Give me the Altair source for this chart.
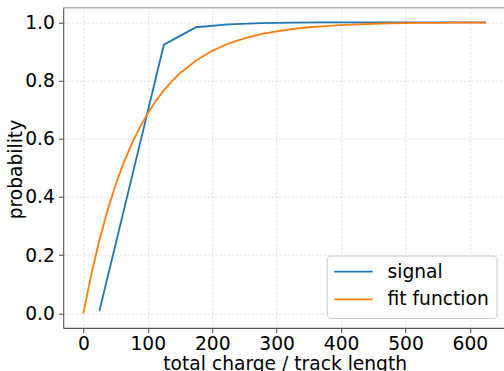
import altair as alt
import pandas as pd

# ---- data ----
sig_x = [25, 75, 125, 175, 225, 275, 325, 375, 425, 475, 525, 575, 625]
sig_y = [0.009, 0.465, 0.923, 0.983, 0.993, 0.997, 0.999, 1.0, 1.0, 1.0, 1.0, 1.0, 1.0]

fit_x = [0, 12.5, 25, 37.5, 50, 62.5, 75, 87.5, 100, 112.5, 125, 137.5, 150,
         175, 200, 225, 250, 275, 300, 325, 350, 375, 400, 425, 450, 475,
         500, 525, 550, 575, 600, 625]
fit_y = [0.0, 0.135, 0.252, 0.353, 0.441, 0.517, 0.582, 0.638, 0.687, 0.730,
         0.766, 0.798, 0.825, 0.869, 0.902, 0.927, 0.945, 0.959, 0.969, 0.977,
         0.983, 0.987, 0.990, 0.993, 0.995, 0.996, 0.997, 0.998, 0.998, 0.999,
         0.999, 0.999]

x_ticks = [0, 100, 200, 300, 400, 500, 600]
y_ticks = [0.0, 0.2, 0.4, 0.6, 0.8, 1.0]
legend_labels = ["signal", "fit function"]
legend_colors = ["#1f77b4", "#ff7f0e"]

FONT = "DejaVu Sans"
FS = 18.67
W, H = 440.8, 320.15

sig_df = pd.DataFrame({"x": sig_x, "y": sig_y})
fit_df = pd.DataFrame({"x": fit_x, "y": fit_y})
one = pd.DataFrame({"k": [0]})

common_axis = dict(
    labelFont=FONT, titleFont=FONT, labelFontSize=FS, titleFontSize=FS,
    labelColor="#000000", titleColor="#000000", titleFontWeight="normal",
    tickSize=4.67, tickColor="#555555", tickWidth=1.1,
    domainColor="#555555", domainWidth=1.1,
    grid=True, gridColor="#d6d6d6", gridDash=[2, 2], gridWidth=0.8,
    labelOverlap=False, labelFlush=False,
)

x_axis = alt.Axis(values=x_ticks, format="d", title="total charge / track length",
                  labelPadding=16.5, labelBaseline="alphabetic",
                  titleX=221.5, titleY=41.8, titleBaseline="alphabetic",
                  titleAlign="center", **common_axis)
y_axis = alt.Axis(values=y_ticks, format=".1f", title="probability",
                  labelPadding=4.2, labelBaseline="middle",
                  titleX=-41.9, titleY=161.3, titleAngle=270,
                  titleBaseline="alphabetic", titleAlign="center", **common_axis)

xs = alt.Scale(domain=[-31.25, 652.9], nice=False, zero=False)
ys = alt.Scale(domain=[-0.05, 1.05], nice=False, zero=False)

signal = alt.Chart(sig_df).mark_line(color=legend_colors[0], strokeWidth=1.8).encode(
    x=alt.X("x:Q", scale=xs, axis=x_axis),
    y=alt.Y("y:Q", scale=ys, axis=y_axis),
)
fit = alt.Chart(fit_df).mark_line(color=legend_colors[1], strokeWidth=1.8).encode(
    x=alt.X("x:Q", scale=xs, axis=x_axis),
    y=alt.Y("y:Q", scale=ys, axis=y_axis),
)

top_spine = alt.Chart(one).mark_rule(color="#b0b0b0", strokeWidth=1.3).encode(
    x=alt.value(0), x2=alt.value(W), y=alt.value(0)
)

legend_box = alt.Chart(one).mark_rect(
    fill="white", fillOpacity=0.8, stroke="#cccccc", strokeWidth=1, cornerRadius=3.7
).encode(x=alt.value(264.1), x2=alt.value(433.8), y=alt.value(248.3), y2=alt.value(310.8))

layers = [signal, fit, top_spine, legend_box]
for i, (lab, col) in enumerate(zip(legend_labels, legend_colors)):
    yy = 263.95 + 27.6 * i
    layers.append(
        alt.Chart(one).mark_rule(color=col, strokeWidth=1.8).encode(
            x=alt.value(271.1), x2=alt.value(309.5), y=alt.value(yy)
        )
    )
    layers.append(
        alt.Chart(pd.DataFrame({"label": [lab]})).mark_text(
            font=FONT, fontSize=FS, color="#000000", align="left", baseline="middle"
        ).encode(text="label:N", x=alt.value(324.3), y=alt.value(yy))
    )

chart = alt.layer(*layers).properties(
    width=W, height=H,
    autosize=alt.AutoSizeParams(type="none"),
    padding={"left": 63.2, "top": 7.75, "right": 0, "bottom": 43.1},
    background="white",
).configure_view(stroke=None)

chart.save("out.html", embed_options={"renderer": "svg", "actions": False})
